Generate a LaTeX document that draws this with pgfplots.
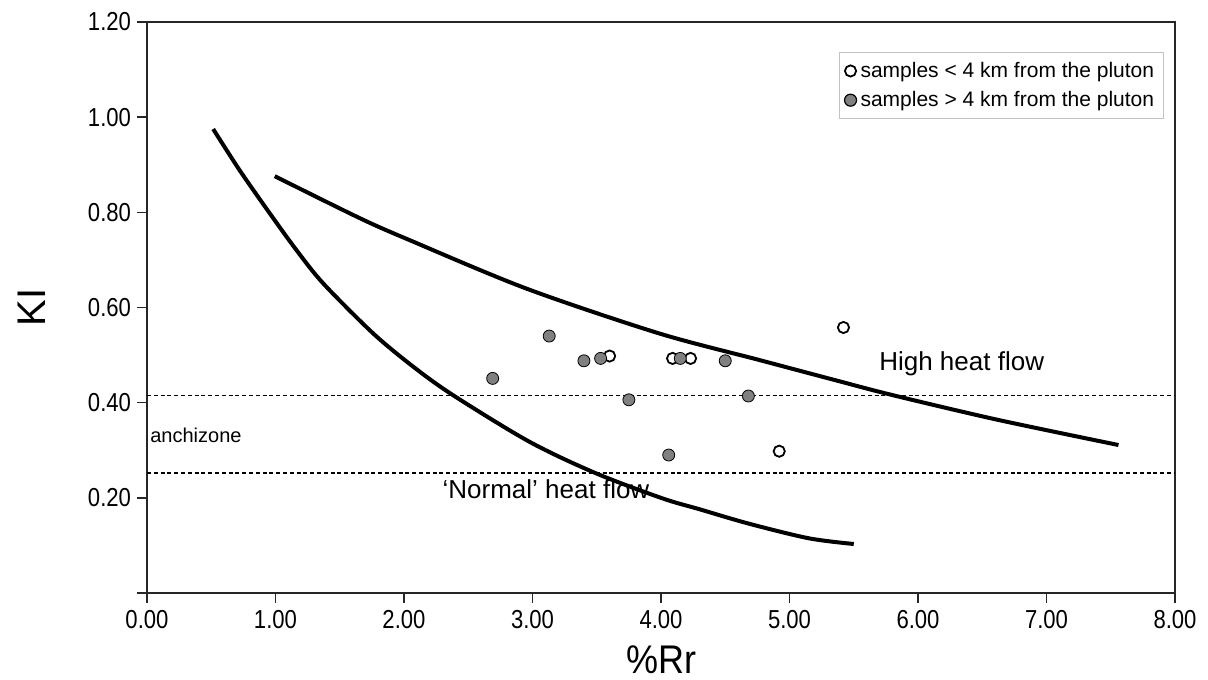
\documentclass[border=0pt]{standalone}
\usepackage{fontspec}
\setmainfont{Liberation Sans}
\usepackage{pgfplots}
\pgfplotsset{compat=1.18}
\definecolor{dotgray}{RGB}{128,128,128}
\definecolor{legframe}{RGB}{195,195,195}
\begin{document}
\begin{tikzpicture}
\begin{axis}[
  name=ax,
  scale only axis,
  width=514pt, height=285.5pt,
  xmin=0, xmax=8, ymin=0, ymax=1.2,
  axis line style={line width=1pt, black!85},
  tick align=outside, tick pos=left,
  major tick length=5pt,
  tick style={line width=0.8pt, black!85},
  xtick={0,1,2,3,4,5,6,7,8},
  xticklabels={0.00,1.00,2.00,3.00,4.00,5.00,6.00,7.00,8.00},
  ytick={0,0.2,0.4,0.6,0.8,1.0,1.2},
  yticklabels={,0.20,0.40,0.60,0.80,1.00,1.20},
  tick label style={font=\fontsize{13}{15}\selectfont, xscale=0.85},
  xlabel={\%Rr}, ylabel={KI},
  label style={font=\fontsize{20}{24}\selectfont},
  xlabel style={at={(axis description cs:0.5,-0.117)}, anchor=center, xscale=0.9},
  ylabel style={at={(axis description cs:-0.112,0.5)}, anchor=center},
  legend style={at={(rel axis cs:0.989,0.947)}, anchor=north east,
    draw=legframe, line width=0.6pt, font=\fontsize{10.5}{12.5}\selectfont,
    row sep=1.5pt, inner sep=2.5pt, cells={anchor=west}},
  clip=false,
]
% Normal heat flow
\addplot[black, line width=2pt, smooth, forget plot] coordinates {
  (0.515,0.975) (0.722,0.888) (0.955,0.798) (1.162,0.721) (1.37,0.651)
  (1.758,0.546) (2.07,0.476) (2.38,0.416) (2.975,0.318) (3.49,0.252)
  (4.01,0.199) (4.30,0.176) (4.68,0.146) (5.15,0.115) (5.50,0.103)};
% High heat flow
\addplot[black, line width=2pt, smooth, forget plot] coordinates {
  (0.994,0.876) (1.654,0.788) (2.04,0.742) (2.95,0.640) (3.98,0.546)
  (4.76,0.490) (5.36,0.447) (5.80,0.416) (6.62,0.364) (7.56,0.311)};
% anchizone limits
\addplot[black, line width=0.9pt, dash pattern=on 2pt off 1.4pt, forget plot]
  coordinates {(0,0.415) (8,0.415)};
\addplot[black, line width=0.9pt, dash pattern=on 2pt off 1.4pt, forget plot]
  coordinates {(0,0.252) (8,0.252)};
% samples < 4 km
\addplot[only marks, mark=o, mark size=2.8pt, mark options={black, line width=0.9pt}]
  coordinates {(3.60,0.498) (4.09,0.493) (4.23,0.493) (4.92,0.298) (5.42,0.558)};
\addlegendentry{samples < 4 km from the pluton}
% samples > 4 km
\addplot[only marks, mark=*, mark size=3pt, mark options={draw=none, fill=dotgray}]
  coordinates {(3.13,0.540) (3.40,0.488) (3.53,0.493) (2.69,0.451) (3.75,0.406)
    (4.15,0.493) (4.50,0.488) (4.68,0.414) (4.06,0.290)};
\addlegendentry{samples > 4 km from the pluton}
\node[font=\fontsize{13}{15}\selectfont] at (axis cs:6.34,0.481) {High heat flow};
\node[font=\fontsize{13}{15}\selectfont] at (axis cs:3.105,0.219) {‘Normal’ heat flow};
\node[font=\fontsize{10}{12}\selectfont, anchor=west, inner sep=0pt] at (axis cs:0.023,0.332) {anchizone};
\end{axis}
\pgfresetboundingbox
\path[use as bounding box] ([shift={(-73.5pt,-43pt)}]ax.south west) rectangle ([shift={(16.5pt,11pt)}]ax.north east);
\end{tikzpicture}
\end{document}
